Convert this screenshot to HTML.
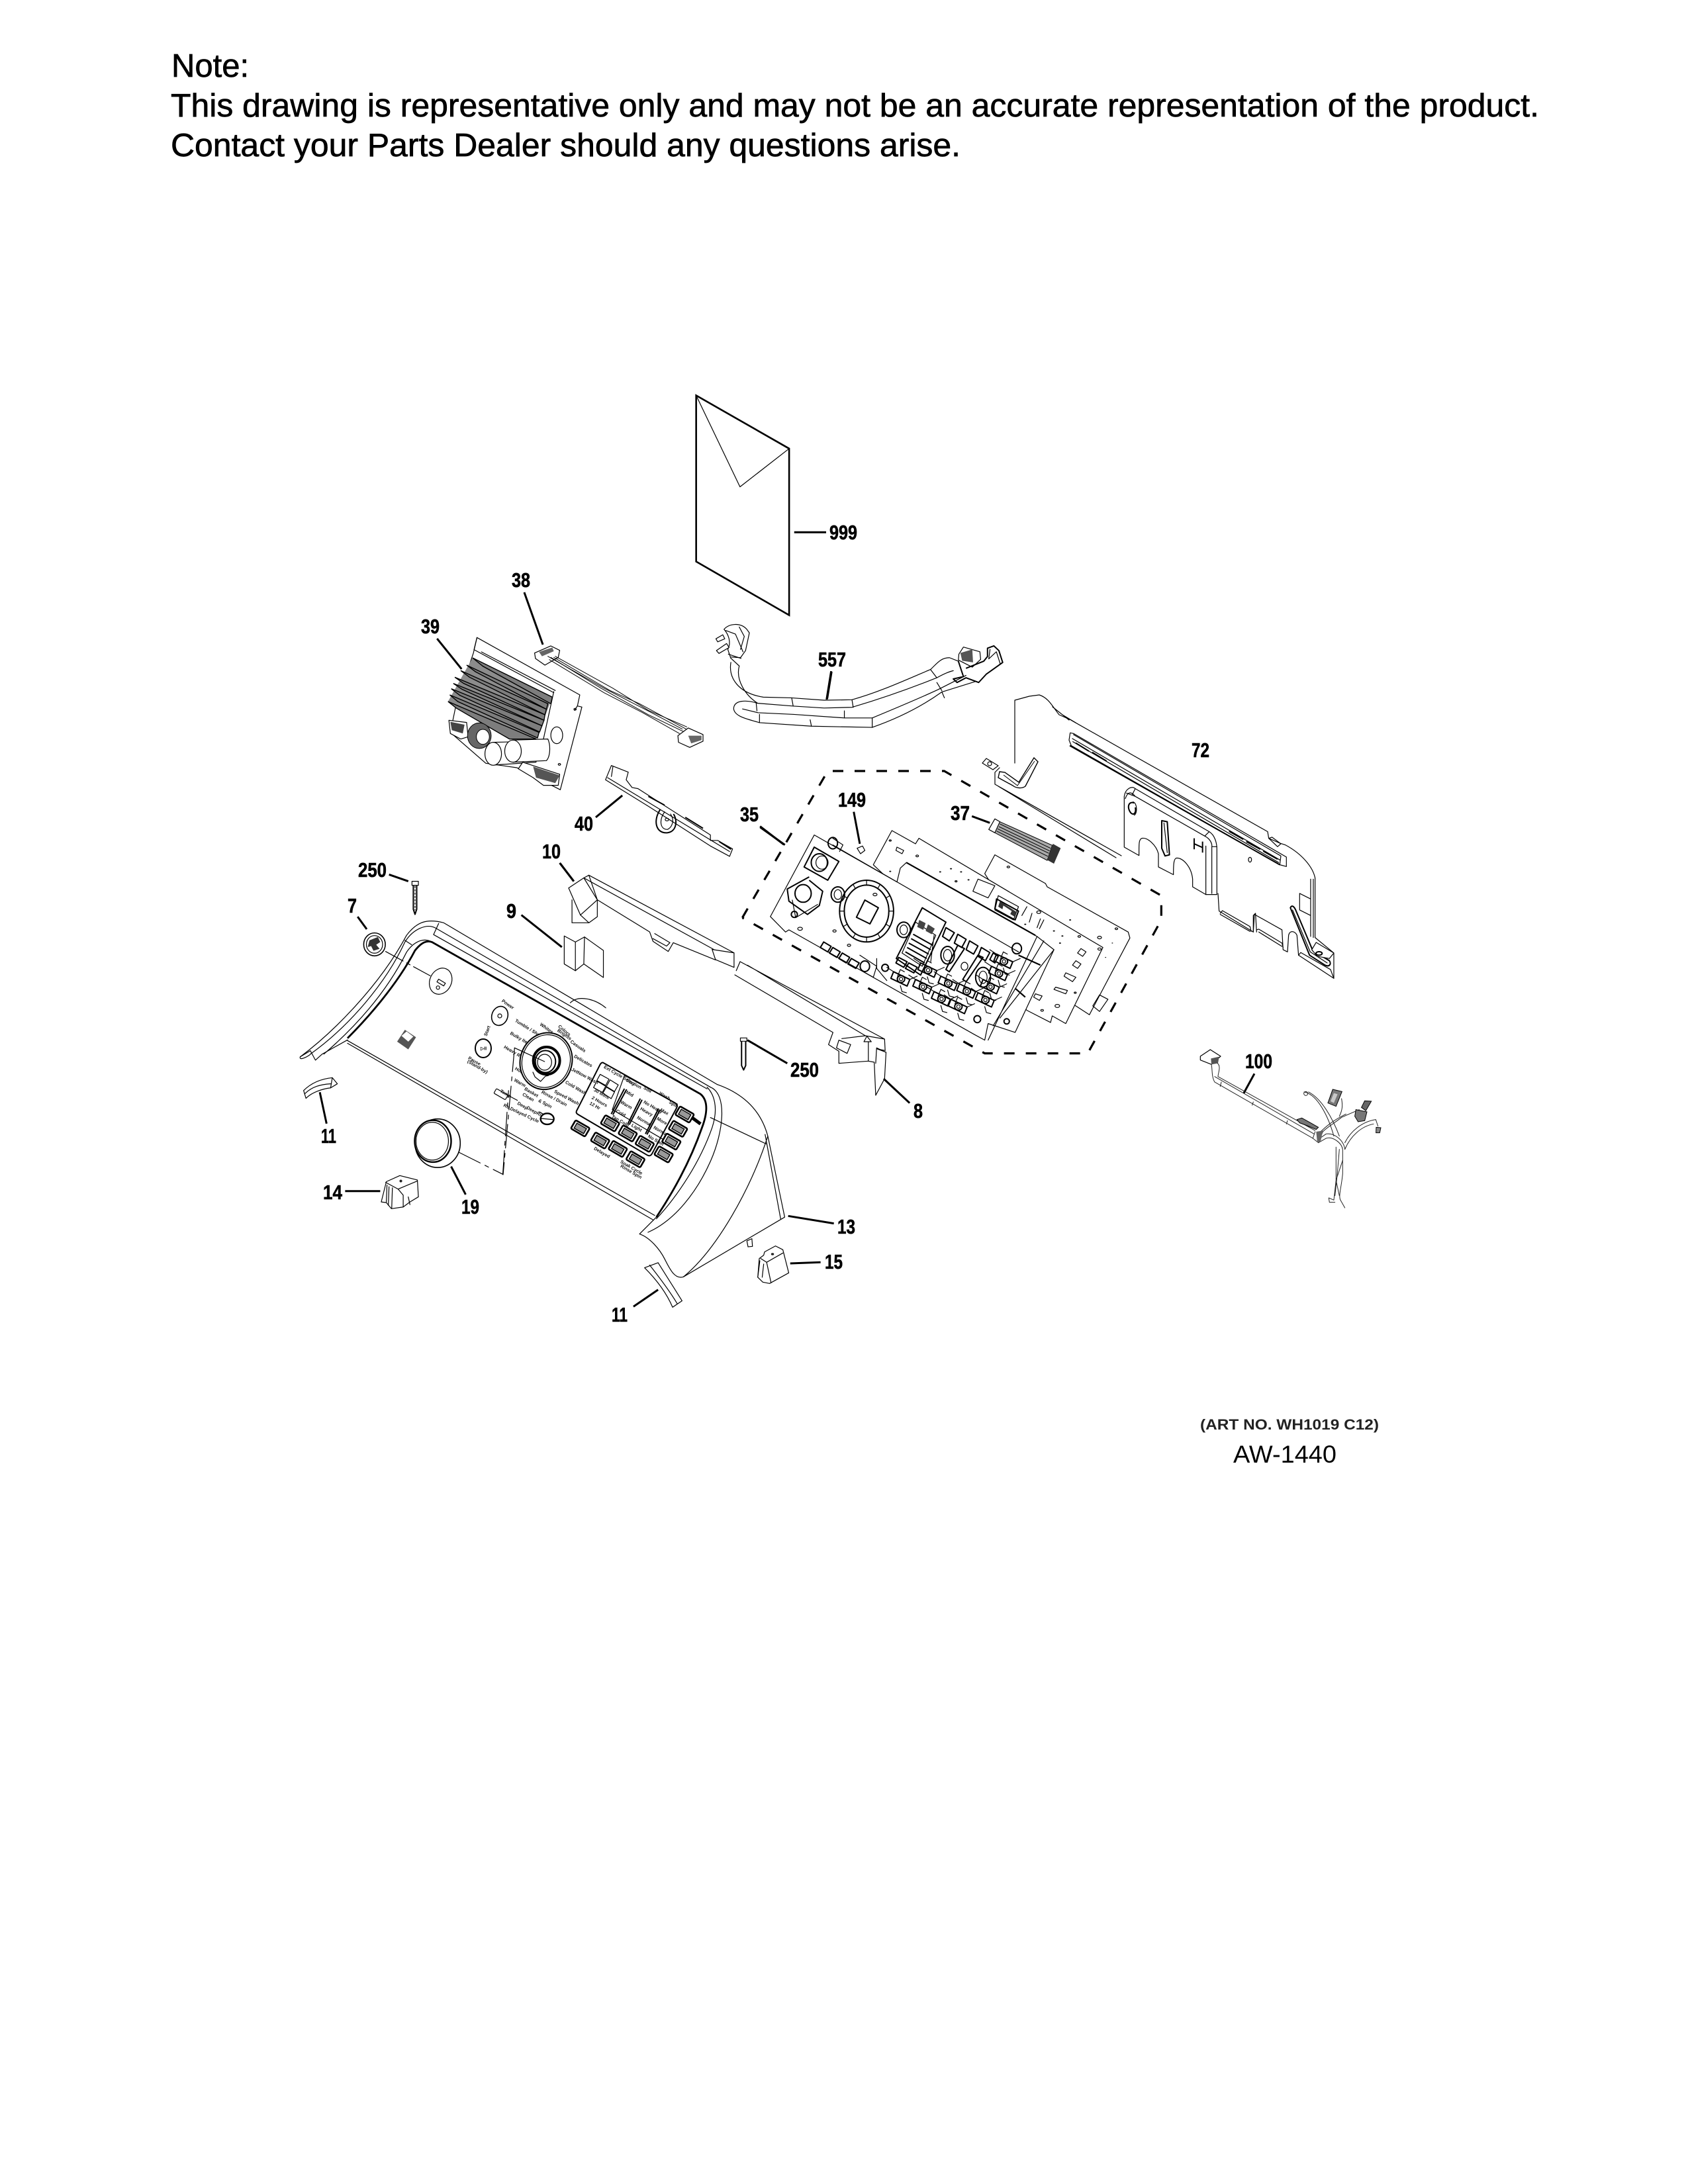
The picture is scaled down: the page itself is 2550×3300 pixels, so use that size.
<!DOCTYPE html>
<html><head><meta charset="utf-8"><style>
html,body{margin:0;padding:0;background:#fff}
svg{display:block}
svg *{vector-effect:non-scaling-stroke}
.n{font-family:"Liberation Sans",Arial,sans-serif;font-size:49px;fill:#000;stroke:#000;stroke-width:.7}
.l{font-family:"Liberation Sans Narrow","Liberation Sans",sans-serif;font-weight:700;font-size:31px;fill:#000;stroke:#000;stroke-width:.6}
.t{font-family:"Liberation Sans Narrow","Liberation Sans",sans-serif;font-weight:700;font-size:21px;fill:#111}
.s{fill:none;stroke:#000;stroke-width:1.2;stroke-linejoin:round;stroke-linecap:round}
.m{fill:none;stroke:#000;stroke-width:2;stroke-linejoin:round}
.k{fill:none;stroke:#000;stroke-width:3;stroke-linecap:butt}
.w{fill:#fff;stroke:#000;stroke-width:1.2;stroke-linejoin:round}
</style></head><body>
<svg width="2550" height="3300" viewBox="0 0 2550 3300" xmlns="http://www.w3.org/2000/svg">
<rect width="2550" height="3300" fill="#fff"/>
<defs>
<g id="key"><rect x="-37" y="-22" width="74" height="44" rx="6" fill="#fff" stroke="#000" stroke-width="2.6"/><rect x="-25" y="-13" width="50" height="26" fill="#999" stroke="#000" stroke-width="1.4"/></g>
<g id="mech"><path class="m" d="M-30 -25 L18 10 L10 40 L-38 5 Z"/><path class="s" d="M-10 38 L-5 65 L8 70 M-30 -25 L-50 -45 M18 10 L40 -5 M-18 -5 L-10 -35 L2 -25"/><ellipse class="m" cx="-8" cy="8" rx="11" ry="16"/><ellipse class="s" cx="-8" cy="8" rx="5" ry="8"/></g>
</defs>

<!-- header text -->
<text class="n" x="259" y="116">Note:</text>
<text class="n" x="258" y="176" textLength="2067" lengthAdjust="spacingAndGlyphs">This drawing is representative only and may not be an accurate representation of the product.</text>
<text class="n" x="258" y="236" textLength="1193" lengthAdjust="spacingAndGlyphs">Contact your Parts Dealer should any questions arise.</text>
<text x="1813" y="2160" textLength="270" lengthAdjust="spacingAndGlyphs" style="font:700 22px 'Liberation Sans',sans-serif;fill:#222">(ART NO. WH1019 C12)</text>
<text x="1863" y="2210" textLength="156" lengthAdjust="spacingAndGlyphs" style="font:400 37px 'Liberation Sans',sans-serif;fill:#000">AW-1440</text>

<!-- callouts -->
<g>
<text class="l" x="541" y="1325" textLength="43" lengthAdjust="spacingAndGlyphs">250</text>
<text class="l" x="525" y="1379" textLength="14" lengthAdjust="spacingAndGlyphs">7</text>
<text class="l" x="819" y="1297" textLength="28" lengthAdjust="spacingAndGlyphs">10</text>
<text class="l" x="765" y="1387" textLength="15" lengthAdjust="spacingAndGlyphs">9</text>
<text class="l" x="485" y="1727" textLength="23" lengthAdjust="spacingAndGlyphs">11</text>
<text class="l" x="488" y="1812" textLength="29" lengthAdjust="spacingAndGlyphs">14</text>
<text class="l" x="697" y="1834" textLength="27" lengthAdjust="spacingAndGlyphs">19</text>
<text class="l" x="924" y="1997" textLength="24" lengthAdjust="spacingAndGlyphs">11</text>
<text class="l" x="773" y="887" textLength="28" lengthAdjust="spacingAndGlyphs">38</text>
<text class="l" x="636" y="957" textLength="28" lengthAdjust="spacingAndGlyphs">39</text>
<text class="l" x="1236" y="1007" textLength="42" lengthAdjust="spacingAndGlyphs">557</text>
<text class="l" x="868" y="1255" textLength="28" lengthAdjust="spacingAndGlyphs">40</text>
<text class="l" x="1118" y="1241" textLength="28" lengthAdjust="spacingAndGlyphs">35</text>
<text class="l" x="1266" y="1219" textLength="42" lengthAdjust="spacingAndGlyphs">149</text>
<text class="l" x="1436" y="1239" textLength="29" lengthAdjust="spacingAndGlyphs">37</text>
<text class="l" x="1194" y="1627" textLength="43" lengthAdjust="spacingAndGlyphs">250</text>
<text class="l" x="1380" y="1689" textLength="14" lengthAdjust="spacingAndGlyphs">8</text>
<text class="l" x="1265" y="1864" textLength="27" lengthAdjust="spacingAndGlyphs">13</text>
<text class="l" x="1246" y="1917" textLength="27" lengthAdjust="spacingAndGlyphs">15</text>
<text class="l" x="1800" y="1144" textLength="27" lengthAdjust="spacingAndGlyphs">72</text>
<text class="l" x="1881" y="1614" textLength="41" lengthAdjust="spacingAndGlyphs">100</text>
<text class="l" x="1253" y="815" textLength="42" lengthAdjust="spacingAndGlyphs">999</text>
</g>

<!-- Z8: envelope + power cord -->
<g transform="matrix(.3827 0 0 .357 1000 560)">
<path d="M135 105 L502 330 L502 1035 L135 808 Z" fill="none" stroke="#000" stroke-width="2.6"/>
<path class="s" d="M135 105 L308 492 L502 330"/>
<path class="k" d="M522 684 L648 684"/>
<path class="k" d="M668 1272 L650 1392"/>
<!-- plug -->
<path class="w" d="M245 1095 C265 1070 310 1065 335 1095 L345 1110 L330 1185 L310 1215 L270 1212 L260 1180 C275 1150 262 1115 245 1095Z"/>
<path class="w" d="M213 1135 L240 1118 L248 1135 L220 1148Z M215 1185 L255 1155 L265 1172 L225 1197Z"/>
<path class="s" d="M252 1100 L290 1115 L320 1190 M305 1085 L325 1125 L310 1180 M262 1200 L312 1218 M270 1215 L305 1250"/>
<!-- harness -->
<g class="s" stroke-width="1.4">
<path d="M272 1235 C262 1300 300 1365 400 1382 L510 1385 L640 1395 L750 1393 C860 1360 960 1310 1060 1265 C1085 1240 1100 1215 1135 1215 L1170 1230"/>
<path d="M305 1250 C290 1310 330 1375 378 1408 L520 1420 L640 1428 L750 1425 C860 1390 980 1345 1085 1300 C1110 1285 1130 1275 1150 1270"/>
<path d="M378 1408 C330 1392 285 1395 283 1430 C285 1465 340 1475 385 1490 L590 1505 L830 1510 C950 1465 1040 1410 1105 1360 L1240 1315"/>
<path d="M318 1432 L380 1448 L520 1455 L720 1470 L830 1470 C920 1430 1020 1385 1090 1350 L1200 1290"/>
<path d="M720 1440 L720 1470 M512 1385 L518 1420 M750 1393 L755 1425 M1060 1265 L1085 1300 M1085 1320 L1105 1355 M1105 1360 L1115 1385 M830 1470 L830 1510 M585 1478 L590 1505 M385 1455 L385 1490 M372 1408 L375 1440"/>
</g>
<path class="w" d="M1172 1200 L1190 1170 L1255 1190 L1258 1222 L1225 1255 L1170 1225Z"/>
<path d="M1178 1195 L1225 1180 L1228 1235 L1185 1228Z" fill="#555"/>
<path class="m" d="M1170 1230 L1190 1295 L1150 1305 L1165 1320 L1200 1300 L1250 1320 L1280 1285 L1345 1235 L1330 1185 L1310 1165 L1285 1175 L1285 1210 L1270 1230 L1200 1260"/>
<path class="s" d="M1295 1180 L1290 1220 L1320 1190 L1335 1240"/>
</g>

<!-- Z2: 38 39 40 -->
<g transform="matrix(.4464 0 0 .3333 600 850)">
<path class="k" d="M430 135 L493 372"/><path class="k" d="M135 345 L218 483"/><path class="k" d="M1470 495 L1455 618"/>
<path class="k" d="M762 1056 L672 1155"/><path class="k" d="M1228 1196 L1308 1278"/><path class="k" d="M550 1362 L598 1445"/>
<!-- PCB -->
<path class="w" d="M270 340 L618 600 L610 650 L625 655 L552 1030 L405 930 L300 910 L180 770 L200 640 L258 410 Z"/>
<path class="s" d="M270 340 L260 395 L530 590 M285 405 L535 580 M530 585 L495 800 M610 650 L600 670"/>
<path d="M255 432 L525 610 L470 805 L172 630 Z" fill="#8c8c8c"/>
<g fill="#7d7d7d" stroke="#000" stroke-width="1.4">
<path d="M255 432 L525 610 L520 640 L290 470Z"/><path d="M235 465 L510 640 L505 665 L265 495Z"/><path d="M215 490 L505 665 L500 690 L245 520Z"/>
<path d="M195 520 L500 690 L497 715 L225 548Z"/><path d="M190 548 L497 715 L490 740 L220 575Z"/><path d="M183 572 L490 740 L482 768 L212 602Z"/>
<path d="M178 600 L480 770 L475 795 L205 630Z"/><path d="M172 630 L470 800 L380 800 L200 660Z"/>
</g>
<path class="w" d="M175 715 L235 725 L240 790 L215 800 L180 775Z"/><path fill="#444" d="M180 722 L228 735 L222 775 L185 760Z"/>
<ellipse cx="278" cy="785" rx="40" ry="58" fill="#666" stroke="#000"/><ellipse cx="290" cy="790" rx="22" ry="34" fill="#fff" stroke="#000"/>
<path class="w" d="M325 815 L470 810 L470 905 L325 918 Z"/><ellipse class="w" cx="325" cy="867" rx="28" ry="52"/>
<path class="w" d="M390 805 L510 800 C520 830 518 880 505 898 L392 905 Z"/><ellipse class="w" cx="392" cy="855" rx="28" ry="50"/>
<ellipse class="w" cx="540" cy="783" rx="20" ry="38"/>
<path class="w" d="M410 935 L425 905 L550 960 L545 1010 L495 1010 L460 975Z"/><path fill="#555" d="M460 925 L550 965 L535 1000 L470 975Z"/>
<circle cx="602" cy="665" r="4" class="s"/><circle cx="549" cy="915" r="4" class="s"/>
<!-- cable -->
<path class="w" d="M465 410 L520 378 L550 398 L545 430 L500 465 L468 435Z"/><path fill="#666" d="M480 405 L525 385 L530 402 L490 425Z"/>
<g class="s" style="stroke-width:1"><path d="M510 425 L700 570 L860 680 L965 755"/><path d="M520 430 L690 570 L850 690 L975 770"/><path d="M530 430 L720 580 L820 640 L985 760"/><path d="M535 425 L730 570 L850 670 L980 745"/><path d="M515 440 L700 590 L830 680 L955 775"/></g>
<path class="w" d="M950 785 L985 750 L1035 780 L1035 810 L990 838 L952 815Z"/><path fill="#666" d="M985 785 L1030 785 L1030 805 L995 820Z"/>
<!-- part 40 -->
<path class="w" d="M725 920 L782 950 L775 985 L795 1020 L815 1025 L1060 1235 L1060 1260 L1085 1260 L1135 1298 L1125 1332 L1060 1285 L950 1190 L850 1105 L705 985 Z"/>
<path class="s" d="M712 975 L1125 1310 M730 925 L725 970"/>
<path class="k" style="stroke-width:2" d="M850 1060 L905 1100 M975 1155 L1035 1205 M1090 1265 L1130 1300"/>
<path class="m" d="M890 1120 C865 1170 875 1230 915 1225 C945 1220 950 1170 935 1140"/><path class="s" d="M905 1130 C885 1170 890 1210 915 1210 C930 1200 940 1170 925 1140"/><circle class="s" cx="913" cy="1165" r="6"/>
</g>

<!-- Z1: control panel & parts -->
<g transform="matrix(.51 0 0 .51 400 1250)">
<path class="w" style="stroke:none" d="M105 685 C200 610 340 470 420 320 C450 280 480 270 530 283 L1340 762 C1420 790 1470 840 1490 915 L1540 1155 L1240 1332 C1215 1340 1200 1310 1185 1280 C1170 1250 1140 1215 1110 1205 L1160 1155 L245 630 L175 672Z"/>
<g class="s">
<path d="M105 680 C200 610 340 470 420 320 C450 280 480 270 530 283 L1340 762"/>
<path d="M135 672 C250 590 360 460 415 340 C440 300 480 285 505 298 L1320 770"/>
<path d="M175 672 C270 590 360 490 420 370 C440 340 470 325 495 340"/>
<path d="M515 285 L500 318 L1310 775 M415 335 L435 348 M905 520 C930 495 980 510 1010 535"/>
<path d="M245 632 L1155 1150 M245 640 L1150 1163"/>
<path d="M1340 762 C1420 790 1470 840 1490 915 L1540 1155 L1240 1332 C1215 1340 1200 1310 1185 1280 C1170 1250 1140 1215 1110 1205 L1160 1155"/>
<path d="M1320 770 C1370 790 1360 900 1320 990 C1280 1080 1215 1165 1135 1200"/>
<path d="M1490 915 C1440 1070 1340 1250 1240 1332 M1482 910 L1528 1160 M1320 860 L1485 938"/>
<path d="M1310 770 C1330 790 1345 830 1325 890 C1290 990 1225 1090 1160 1160"/>
<path d="M105 680 C100 695 135 675 135 672 M105 680 L135 662 L150 690 L170 672 L245 630"/>
</g>
<path fill="none" stroke="#000" stroke-width="2.8" d="M245 625 C300 570 390 470 445 365 C465 340 480 335 495 340 L1290 790 C1315 810 1310 850 1295 890 C1260 990 1210 1080 1160 1155"/>
<!-- logo, disc, dashes -->
<path class="s" stroke-dasharray="30 6 6 6" d="M358 368 L490 440"/>
<ellipse class="s" cx="521" cy="456" rx="32" ry="40" transform="rotate(25 521 456)"/>
<path class="s" d="M515 450 L535 462 L530 470 L510 458Z"/><circle class="s" cx="513" cy="475" r="5"/>
<ellipse cx="325" cy="347" rx="32" ry="34" fill="#fff" stroke="#000" stroke-width="1.6"/><ellipse class="s" cx="325" cy="347" rx="24" ry="26"/>
<path fill="#333" d="M310 335 L335 325 L342 340 L330 348 L340 360 L322 366 L315 352 L305 355Z"/>
<!-- screw -->
<path class="w" d="M436 160 L455 160 L455 172 L436 172Z"/><path class="m" d="M440 172 L440 243 L445 258 L450 243 L450 172"/><path class="s" stroke-dasharray="2 3" d="M445 175 L445 245"/>
<path class="k" d="M368 140 L425 160"/><path class="k" d="M275 265 L302 302"/><path class="k" d="M875 107 L915 160"/><path class="k" d="M760 260 L880 355"/>
<path class="k" d="M163 785 L183 878"/><path class="k" d="M238 1078 L342 1078"/><path class="k" d="M552 1005 L595 1088"/><path class="k" d="M1165 1370 L1092 1420"/>
<!-- logo sticker -->
<path fill="#555" d="M392 635 L415 600 L448 622 L425 658 Z"/>
<path fill="#fff" d="M405 618 L420 605 L440 620 L425 635Z"/>
<!-- 11 left -->
<path class="w" d="M115 780 C140 755 170 745 200 742 L215 760 L195 772 C170 775 140 785 122 803 Z"/><path class="s" d="M118 790 C140 768 165 762 195 760 M195 772 L200 742"/>
<!-- 11 right -->
<path class="w" d="M1125 1305 L1165 1290 C1190 1330 1215 1370 1236 1403 L1208 1422 C1190 1380 1160 1340 1125 1305Z"/><path class="s" d="M1140 1297 C1170 1335 1200 1375 1222 1412"/>
<!-- 19 -->
<ellipse cx="512" cy="936" rx="67" ry="72" fill="#fff" stroke="#000" stroke-width="1.6"/>
<ellipse cx="498" cy="930" rx="54" ry="62" fill="#fff" stroke="#000" stroke-width="2.4"/>
<ellipse class="s" cx="496" cy="930" rx="48" ry="56"/>
<path class="s" stroke-dasharray="36 8 6 8" d="M575 963 L705 1028"/>
<path class="s" stroke-dasharray="36 8 6 8" d="M705 1028 L722 780"/>
<!-- 14 -->
<path class="w" d="M345 1110 L360 1050 L400 1032 L452 1045 L455 1095 L430 1110 L410 1125 L375 1130 L360 1112Z"/>
<path class="s" d="M358 1052 L395 1072 L452 1048 M395 1072 L410 1090 L410 1125 M378 1068 L376 1128 M362 1060 L360 1110 M368 1065 L366 1120"/><path class="s" d="M425 1095 L430 1118"/><circle fill="#222" cx="403" cy="1048" r="4"/>
<!-- part 9 -->
<path class="w" d="M887 322 L920 340 L947 325 L1003 365 L1003 445 L945 405 L920 425 L887 405 Z"/><path class="s" d="M920 340 L920 425 M947 325 L945 405"/>
<!-- rail 10 -->
<path class="s" d="M960 142 L1390 372 L1390 415 L1335 392 L1325 362 L1390 372 M945 150 L1330 362 M985 215 L1140 310 L1150 338 L1195 368 L1210 342 L1335 393 M1155 315 L1200 342 L1190 352 L1150 330"/>
<path class="w" d="M900 180 L945 150 L985 215 L935 260 Z"/><path class="s" d="M910 215 L910 283 L960 283 L985 265 L985 215 M945 150 L960 142 L985 215 M935 260 L960 283"/>
</g>

<!-- Z12: panel detail -->
<g transform="matrix(.3333 0 0 .3333 680 1480)">
<ellipse cx="225" cy="165" rx="36" ry="44" fill="#fff" stroke="#000" stroke-width="1.6" transform="rotate(20 225 165)"/><circle class="s" cx="225" cy="165" r="9"/>
<ellipse cx="150" cy="312" rx="36" ry="42" fill="#fff" stroke="#000" stroke-width="2"/><text class="t" x="138" y="320">▷II</text>
<g class="t">
<text transform="translate(232,100) rotate(35)">Power</text>
<text transform="translate(166,258) rotate(-70)">Start</text>
<text transform="translate(80,360) rotate(30)">Pause</text>
<text transform="translate(76,375) rotate(30)">(Stand-by)</text>
<text transform="translate(292,190) rotate(32)">Tumble / Sheets</text>
<text transform="translate(405,207) rotate(35)">Whites</text>
<text transform="translate(488,215) rotate(40)">Colors</text>
<text transform="translate(484,234) rotate(35)">Brights</text>
<text transform="translate(543,285) rotate(35)">Casuals</text>
<text transform="translate(560,352) rotate(30)">Delicates</text>
<text transform="translate(548,412) rotate(28)">JetNow Wash</text>
<text transform="translate(520,470) rotate(30)">Cold Wash</text>
<text transform="translate(470,512) rotate(28)">Speed Wash</text>
<text transform="translate(412,515) rotate(28)">Rinse / Drain</text>
<text transform="translate(398,553) rotate(28)">&amp; Spin</text>
<text transform="translate(270,248) rotate(30)">Bulky Items</text>
<text transform="translate(242,310) rotate(30)">Heavy</text>
<text transform="translate(300,345) rotate(30)">Reg</text>
<text transform="translate(292,408) rotate(30)">Hot</text>
<text transform="translate(288,460) rotate(30)">Warm</text>
<text transform="translate(335,500) rotate(30)">Basket</text>
<text transform="translate(326,525) rotate(30)">Clean</text>
<text transform="translate(270,590) rotate(25)">Delayed Cycle</text>
<text transform="translate(240,575) rotate(25)">Rd</text>
<text transform="translate(225,510) rotate(30)">Temp</text>
<text transform="translate(303,565) rotate(30)">Deep</text>
<text transform="translate(345,585) rotate(30)">Deep</text>
<text transform="translate(390,610) rotate(30)">Rin</text>
<text transform="translate(695,400) rotate(30)">Ext Cycle Selection</text>
<text transform="translate(795,460) rotate(30)">Stay</text>
<text transform="translate(875,495) rotate(30)">Soil</text>
<text transform="translate(945,520) rotate(30)">Wash</text>
<text transform="translate(990,560) rotate(30)">Spin</text>
<text transform="translate(795,515) rotate(30)">Mid</text>
<text transform="translate(875,560) rotate(30)">No Heavy</text>
<text transform="translate(860,590) rotate(30)">Heavy</text>
<text transform="translate(845,630) rotate(30)">Normal</text>
<text transform="translate(820,665) rotate(30)">Light</text>
<text transform="translate(950,595) rotate(30)">Max</text>
<text transform="translate(935,635) rotate(30)">More</text>
<text transform="translate(920,675) rotate(30)">Normal</text>
<text transform="translate(895,715) rotate(30)">No Spin</text>
<text transform="translate(770,560) rotate(30)">Warm</text>
<text transform="translate(750,600) rotate(30)">Cold</text>
<text transform="translate(730,625) rotate(30)">Tap Cold</text>
<text transform="translate(650,505) rotate(30)">30 Mins</text>
<text transform="translate(640,540) rotate(30)">2 Hours</text>
<text transform="translate(630,565) rotate(30)">12 Hr</text>
<text transform="translate(650,770) rotate(30)">Delayed</text>
<text transform="translate(770,830) rotate(30)">Soak Cycle</text>
<text transform="translate(770,850) rotate(30)">Rinse Spin</text>
</g>
<rect x="200" y="508" width="60" height="24" rx="4" class="s" transform="rotate(30 230 520)"/>
<path class="s" d="M262 525 L305 548 M405 600 L430 615"/>
<ellipse cx="440" cy="632" rx="30" ry="25" fill="#fff" stroke="#000" stroke-width="2.4"/><path d="M412 630 L465 635" class="s"/>
<!-- dial -->
<ellipse cx="435" cy="370" rx="117" ry="130" fill="#fff" stroke="#000" stroke-width="2" transform="rotate(20 435 370)"/>
<ellipse class="s" cx="435" cy="370" rx="108" ry="121" transform="rotate(20 435 370)"/>
<ellipse cx="437" cy="368" rx="60" ry="62" fill="#fff" stroke="#000" stroke-width="4"/>
<ellipse class="m" cx="432" cy="372" rx="46" ry="50"/><ellipse class="s" cx="428" cy="375" rx="32" ry="36"/>
<path class="s" d="M375 420 L385 442 L410 462 L432 438 L445 436"/>
<path class="s" d="M292 310 L375 348" stroke-dasharray="30 6 6 6"/><path class="s" d="M292 310 L240 885" stroke-dasharray="36 8 6 8"/>
<path class="s" d="M375 348 L428 372"/>
<!-- keypad frame -->
<path class="m" d="M695 378 L1020 560 C1032 568 1030 575 1025 585 L915 790 C908 802 900 800 893 796 L580 612 C570 606 570 600 575 592 L680 385 C686 376 690 375 695 378Z"/>
<path class="s" d="M790 435 L735 590 L1000 745 M790 435 L1030 565"/>
<g class="s"><path d="M680 430 L720 452 L705 480 L665 458Z"/><path d="M725 455 L762 478 L745 508 L708 485Z"/><path d="M665 460 L705 484 L690 512 L650 490Z" /><path d="M708 488 L745 510 L730 540 L692 515Z"/></g>
<g class="m"><path d="M790 495 L730 610"/><path d="M800 498 L738 612"/><path d="M862 540 L805 655"/><path d="M870 545 L812 658"/><path d="M945 585 L885 700"/><path d="M952 590 L892 703"/></g>
<use href="#key" transform="translate(590,675) rotate(30)"/>
<use href="#key" transform="translate(725,652) rotate(30)"/>
<use href="#key" transform="translate(805,698) rotate(30)"/>
<use href="#key" transform="translate(882,745) rotate(30)"/>
<use href="#key" transform="translate(680,730) rotate(30)"/>
<use href="#key" transform="translate(760,768) rotate(30)"/>
<use href="#key" transform="translate(840,815) rotate(30)"/>
<use href="#key" transform="translate(968,793) rotate(30)"/>
<use href="#key" transform="translate(1003,735) rotate(30)"/>
<use href="#key" transform="translate(1033,677) rotate(30)"/>
<use href="#key" transform="translate(1063,612) rotate(30)"/>
<path class="k" style="stroke-width:5" d="M1095 625 L1135 655"/>
</g>

<!-- Z4: right rail, 250, 13, 15 -->
<g transform="matrix(.4454 0 0 .3333 1000 1500)">
<path class="s" d="M265 -141 L755 210 M247 -81 L580 180 L565 235 L600 265 L600 320 L700 310 L720 315 L725 465 L755 390 L760 270 L730 255 L757 262 L755 210 L690 195 L610 208 M290 -125 L690 195 M252 -100 L265 -141"/>
<path class="s" d="M725 320 L728 250 L760 270"/>
<path class="s" d="M600 215 L640 235 L628 275 L592 250 Z"/><path class="s" d="M685 222 L695 197 L710 222 Z M700 222 L700 310"/>
<path class="m" d="M270 215 L270 330 L277 350 L284 330 L284 215"/><path class="w" d="M266 205 L288 205 L288 220 L266 220Z"/>
<path class="k" d="M290 215 L425 320"/><path class="k" d="M752 390 L840 500"/><path class="k" d="M428 1012 L583 1046"/><path class="k" d="M435 1227 L538 1222"/>
<path class="w" d="M325 1290 L330 1205 L345 1190 L348 1175 L385 1148 L410 1165 L430 1270 L365 1318 L342 1312Z"/>
<path class="s" d="M335 1205 L355 1222 L410 1180 M355 1222 L370 1315 M332 1215 L325 1290 M345 1230 L340 1290"/><circle fill="#222" cx="375" cy="1185" r="5"/>
<path class="w" d="M288 1125 L305 1115 L307 1150 L292 1152Z"/>
</g>

<!-- Z3: dashed group + boards + 37 -->
<g transform="matrix(.51 0 0 .3333 1100 1130)">
<path fill="none" stroke="#000" stroke-width="3.2" stroke-dasharray="16 17" d="M42 770 L295 105 L640 105 L1283 670 L1283 780 L1065 1385 L760 1385 L42 770"/>
<path class="k" d="M95 360 L168 440"/><path class="k" d="M372 290 L390 435"/><path class="k" d="M722 310 L775 340"/>
<!-- back boards -->
<path class="w" d="M790 485 L940 615 L945 630 L1185 835 L1190 862 L1070 1210 L1030 1170 L1000 1150 L760 570Z"/>
<path class="w" d="M485 375 L555 435 L565 410 L1110 905 L1000 1250 L960 1215 L955 1245 L885 1190 L430 530Z"/>
<g class="s"><path d="M500 450 L520 465 L515 480 L497 465Z M1045 910 L1060 925 L1050 945 L1035 930Z M1030 965 L1045 980 L1035 1000 L1020 985Z M1000 1020 L1030 1040 L1020 1060 L995 1035Z M970 1085 L1005 1100 L1000 1115 L965 1095Z M910 1115 L930 1125 L922 1145 L905 1130Z M1100 1120 L1125 1140 L1100 1195 L1080 1170Z M740 595 L790 625 L770 680 L725 650Z M800 670 L860 720 L845 780 L790 735Z"/>
<circle cx="480" cy="420" r="3"/><circle cx="560" cy="490" r="4"/><circle cx="830" cy="540" r="4"/><circle cx="1150" cy="820" r="4"/><circle cx="920" cy="745" r="6"/><circle cx="1100" cy="860" r="6"/><circle cx="1100" cy="912" r="5"/><circle cx="1040" cy="855" r="4"/><circle cx="975" cy="1170" r="7"/><circle cx="930" cy="1190" r="4"/><circle cx="1028" cy="1110" r="3"/><circle cx="675" cy="605" r="3"/><circle cx="585" cy="600" r="6"/><circle cx="738" cy="728" r="6"/></g>
<g fill="#111"><circle cx="480" cy="560" r="3"/><circle cx="628" cy="562" r="3"/><circle cx="660" cy="548" r="3"/><circle cx="690" cy="562" r="3"/><circle cx="712" cy="598" r="3"/><circle cx="697" cy="682" r="3"/><circle cx="1013" cy="780" r="3"/><circle cx="990" cy="853" r="3"/><circle cx="983" cy="885" r="3"/><circle cx="965" cy="830" r="3"/><circle cx="880" cy="800" r="3"/><circle cx="1138" cy="885" r="2"/><circle cx="1118" cy="950" r="2"/></g>
<path class="m" d="M795 685 L860 740 L850 780 L790 730Z"/>
<path fill="#333" d="M805 695 L855 745 L848 765 L800 720Z"/>
<path fill="#fff" d="M815 715 L840 740 L835 755 L812 735Z"/>
<path class="s" d="M885 720 L870 760 M900 750 L892 790 M925 775 L915 815 M935 780 L922 820"/>
<!-- front frame -->
<path class="w" d="M125 765 L255 395 L500 608 L510 545 L528 520 L915 855 L965 915 L850 1290 L770 1250 L760 1325 L730 1300 L180 825 L170 835 L125 765Z"/>
<path class="s" d="M310 440 L860 925 M915 855 L770 1325 M935 875 L785 1260 M965 915 L805 1225"/>
<path fill="none" stroke="#000" stroke-width="2.2" d="M528 520 L910 850"/>
<path fill="none" stroke="#000" stroke-width="2.2" d="M860 940 L925 985 M850 1090 L880 1130"/>
<!-- wheel -->
<ellipse cx="410" cy="740" rx="80" ry="140" fill="#fff" stroke="#000" stroke-width="2"/>
<ellipse class="m" cx="410" cy="740" rx="66" ry="118"/>
<path class="s" d="M490 740 L476 740 M479 810 L467 799 M450 861 L443 842 M410 880 L410 858 M370 861 L377 842 M341 810 L353 799 M330 740 L344 740 M341 670 L353 681 M370 619 L377 638 M410 600 L410 622 M450 619 L443 638 M479 670 L467 681"/>
<path class="m" d="M405 690 L445 725 L420 798 L380 768 Z"/>
<circle class="s" cx="435" cy="665" r="6"/><circle class="s" cx="315" cy="830" r="5"/><circle class="s" cx="213" cy="820" r="7"/><circle class="s" cx="358" cy="895" r="5"/>
<!-- switches -->
<path class="m" d="M255 450 L328 515 L295 600 L225 540Z"/><ellipse class="m" cx="270" cy="520" rx="24" ry="40"/><ellipse class="s" cx="278" cy="520" rx="18" ry="30"/>
<path class="m" d="M240 585 L175 640 L180 695 L235 755 L270 715 L280 650 L240 600"/><ellipse class="m" cx="222" cy="660" rx="24" ry="40"/><path class="s" d="M190 690 L200 770 L265 710"/>
<ellipse class="m" cx="196" cy="755" rx="9" ry="14"/>
<ellipse class="m" cx="325" cy="665" rx="20" ry="35"/><ellipse class="s" cx="325" cy="665" rx="11" ry="22"/>
<ellipse class="m" cx="310" cy="432" rx="14" ry="26"/><path class="s" d="M310 410 L340 440 L330 470"/>
<path class="w" d="M382 455 L398 445 L405 465 L392 480 Z"/>
<ellipse class="m" cx="520" cy="825" rx="20" ry="35"/><ellipse class="s" cx="520" cy="825" rx="11" ry="22"/>
<!-- keypad window -->
<path class="m" d="M575 725 L645 790 L570 1030 L498 955 Z"/>
<path class="s" d="M555 790 L615 850 L575 990 L515 930Z M610 850 L600 970"/>
<path fill="#444" d="M566 780 L585 795 L578 825 L560 812Z M592 800 L612 820 L603 845 L585 830Z"/>
<path fill="none" stroke="#000" stroke-width="2" d="M548 845 L606 895 M542 865 L600 915 M535 885 L594 935 M530 905 L588 955 M525 925 L582 975"/>
<g class="m"><path d="M505 950 L530 970 L520 995 L497 975Z M535 975 L560 995 L550 1020 L525 1000Z M283 880 L305 900 L295 925 L273 905Z M310 905 L332 925 L322 950 L300 930Z M338 930 L360 950 L350 975 L328 955Z M365 955 L388 975 L378 1000 L355 980Z"/></g>
<path class="m" d="M645 815 L670 838 L655 875 L635 855Z M680 845 L705 868 L692 905 L670 885Z M715 875 L740 898 L727 935 L705 915Z M750 905 L775 928 L762 965 L740 945Z M785 930 L800 945 L790 975 L775 960Z"/>
<ellipse class="m" cx="650" cy="940" rx="20" ry="40"/><ellipse class="m" cx="755" cy="1040" rx="22" ry="45"/><ellipse class="s" cx="650" cy="940" rx="12" ry="26"/><ellipse class="s" cx="755" cy="1040" rx="12" ry="28"/>
<path class="m" d="M680 895 L700 910 L655 1015 L645 1005Z M740 940 L755 950 L705 1060 L695 1050Z"/>
<ellipse class="s" cx="700" cy="990" rx="10" ry="18"/>
<ellipse class="m" cx="405" cy="990" rx="14" ry="24"/><path class="s" d="M390 940 L440 990 L430 1040 L395 1010 M440 955 L440 1000 L470 1055"/>
<ellipse class="m" cx="465" cy="997" rx="10" ry="16"/><ellipse class="m" cx="738" cy="1230" rx="10" ry="16"/><ellipse class="m" cx="855" cy="910" rx="14" ry="24"/><ellipse class="m" cx="825" cy="1240" rx="8" ry="12"/>
<use href="#mech" transform="translate(520,1040)"/><use href="#mech" transform="translate(585,1075)"/><use href="#mech" transform="translate(640,1130)"/><use href="#mech" transform="translate(690,1165)"/>
<use href="#mech" transform="translate(600,1000)"/><use href="#mech" transform="translate(660,1060)"/><use href="#mech" transform="translate(715,1095)"/><use href="#mech" transform="translate(770,1135)"/>
<use href="#mech" transform="translate(825,960)"/><use href="#mech" transform="translate(810,1015)"/><use href="#mech" transform="translate(785,1075)"/>
<!-- ribbon 37 -->
<path class="w" d="M790 322 L805 335 L790 385 L772 370Z"/>
<path d="M805 335 L960 442 L945 510 L790 385Z" fill="#aaa" stroke="#000"/>
<path stroke="#000" fill="none" d="M805 345 L955 455 M802 357 L952 467 M798 367 L950 478 M795 377 L947 492"/>
<path d="M962 435 L985 455 L965 525 L945 508Z" fill="#333"/>
</g>

<!-- Z6: bracket 72 -->
<g transform="matrix(.3333 0 0 .3333 1600 1000)">
<path class="w" style="stroke:none" d="M55 265 L945 770 L950 800 L1025 830 C1100 870 1150 930 1160 980 L1160 1250 L1245 1320 L1245 1435 L1085 1330 L1078 1240 C1070 1220 1045 1215 1040 1240 L1035 1315 L1015 1305 L1010 1215 L885 1145 L880 1225 L725 1130 L720 1055 L665 1055 L605 1020 L605 985 C600 930 560 885 530 890 C520 895 518 915 518 965 L450 930 L450 870 C440 830 400 795 375 800 C360 805 362 830 362 878 L295 840 L290 610 L55 400 Z"/>
<path class="s" d="M55 265 L945 770 L950 800 L1000 822 L1025 830 C1100 870 1150 930 1160 980 L1160 1250 L1245 1320 L1245 1435 L1085 1330 L1078 1240 C1070 1220 1045 1215 1040 1240 L1035 1315 L1015 1305 L1010 1215 L885 1145 L880 1225 L725 1130 L720 1050"/>
<path class="w" d="M50 322 L65 325 L1030 885 L1030 928 L1000 920 L55 380 L45 355Z"/>
<path class="s" d="M65 330 L1005 880 L1000 920 M60 348 L1000 898 M62 362 L995 910"/>
<path class="m" d="M75 368 L135 405 M150 410 L215 450 M770 768 L835 805 M848 815 L912 850 M925 858 L990 895"/>
<path class="m" d="M48 380 L1000 920"/>
<path class="s" d="M950 800 L965 795 L1005 825 L990 838Z"/>
<path class="w" d="M295 610 C300 575 330 560 345 575 L680 770 C705 785 715 820 715 850 L715 1055 L665 1055 L605 1020 L605 985 C600 930 560 885 530 890 C520 895 518 915 518 965 L450 930 L450 870 C440 830 400 795 375 800 C360 805 362 830 362 878 L295 840Z"/>
<path class="s" d="M305 595 L345 610 L660 790 C680 800 695 820 692 840 M692 840 L692 1050 M665 835 L665 1055 M692 838 L715 838 M345 575 L330 605 M680 770 L660 790 M300 620 C310 590 325 585 345 610"/>
<path class="m" d="M340 640 C315 630 305 660 325 685 C340 700 350 680 345 660" /><path class="s" d="M335 635 C355 640 355 690 340 695"/>
<path class="m" d="M465 720 L490 725 L500 875 L480 880 L465 845Z"/><path class="s" d="M475 730 L490 865"/>
<path class="m" d="M612 800 L612 850 M650 815 L650 865 M612 825 L650 842"/>
<ellipse class="s" cx="865" cy="897" rx="7" ry="11"/>
<path class="s" d="M1140 985 L1140 1245 M1152 985 L1152 1250 M1090 1050 L1140 1075 L1140 1150 L1090 1125Z"/>
<path class="s" d="M730 1140 L740 1128 L865 1200 L870 1222 M730 1145 L865 1222 M880 1225 L880 1150 L890 1140 L895 1225 M895 1215 L905 1212 L1010 1275 L1015 1295 M905 1225 L1010 1290"/>
<path class="m" d="M1048 1115 C1055 1100 1065 1110 1072 1125 L1150 1310 L1225 1355 C1235 1370 1225 1385 1205 1375 L1135 1330 Z"/>
<path class="s" d="M1058 1125 L1138 1315 L1215 1365"/>
<path class="w" d="M1145 1305 L1165 1272 L1245 1320 L1225 1345 L1170 1335Z"/><ellipse class="m" cx="1178" cy="1322" rx="14" ry="8"/>
<path class="s" d="M1085 1330 L1095 1318 L1230 1395 L1245 1435"/>
</g>
<!-- bracket left section, page coords -->
<g class="s">
<path d="M1533 1153 L1533 1058 L1555 1052 L1570 1050 C1585 1055 1590 1068 1600 1080 L1618 1088"/>
<path d="M1484 1153 L1490 1146 L1508 1157 L1500 1163Z"/><circle cx="1495" cy="1154" r="3"/>
<path d="M1510 1160 L1503 1167 L1503 1185 L1694 1293 M1508 1188 L1686 1296"/>
<path d="M1590 1068 L1615 1088 M1605 1080 L1625 1092"/>
</g>
<path d="M1510 1166 L1518 1167 L1539 1182 L1562 1145 L1568 1151 L1549 1188 C1544 1192 1535 1191 1530 1187 L1508 1175Z" fill="#fff" stroke="#000" stroke-width="1.4"/>
<path d="M1516 1171 L1537 1187 L1563 1150" fill="none" stroke="#000" stroke-width="1"/>

<!-- Z7: harness 100 -->
<g transform="matrix(.3333 0 0 .3333 1750 1520)">
<path class="k" d="M435 307 L387 395"/>
<path class="w" d="M190 228 L235 198 L282 228 L240 265 L190 245Z"/><path fill="#555" d="M238 238 L275 230 L270 260 L240 265Z"/>
<g class="s" style="stroke-width:1;stroke:#222">
<path d="M240 265 C245 285 240 320 255 345 L700 600"/><path d="M268 260 C285 275 270 305 270 320 L710 565"/><path d="M255 320 L705 580"/>
<path d="M285 345 L280 365 M430 435 L425 450 M585 520 L580 535"/>
<path d="M710 570 L700 600 L725 620 L745 570 C770 545 800 530 830 505 L910 470 M725 580 C760 545 790 520 850 490"/>
<path d="M725 620 L760 600 C790 590 830 620 835 650 L835 760 C830 820 815 860 825 880 L845 915 M725 605 L760 580 C800 575 840 610 845 650"/>
<path d="M805 640 L805 790 L795 880 L772 870 L775 890 L800 890 M820 650 L810 770 L800 860 M835 700 L805 790 L820 860"/>
<path d="M660 390 C720 400 770 500 795 590 M680 390 C740 420 790 510 820 590"/>
<path d="M845 620 C870 570 920 525 985 515 L995 545 M845 650 C870 590 920 545 975 535"/>
<path d="M820 500 C835 470 835 450 830 420"/>
<circle cx="668" cy="397" r="9"/>
</g>
<path d="M628 515 L650 508 L690 530 L725 550 L715 560 L680 545 L640 530Z" fill="#777" stroke="#000"/>
<path d="M790 378 L832 388 L805 455 L768 440Z" fill="#777" stroke="#000"/><path fill="#fff" d="M795 395 L812 400 L795 440 L780 432Z" opacity=".6"/>
<path d="M935 430 L965 432 L940 475 L920 460Z" fill="#666" stroke="#000"/>
<path d="M895 470 L945 480 L935 520 L905 525 L890 500Z" fill="#777" stroke="#000"/>
<path d="M987 550 L1008 552 L1003 575 L986 575Z" fill="#888" stroke="#000"/>
<path d="M715 570 L745 565 L735 615 L720 620Z" fill="#666"/>
</g>
</svg>
</body></html>
